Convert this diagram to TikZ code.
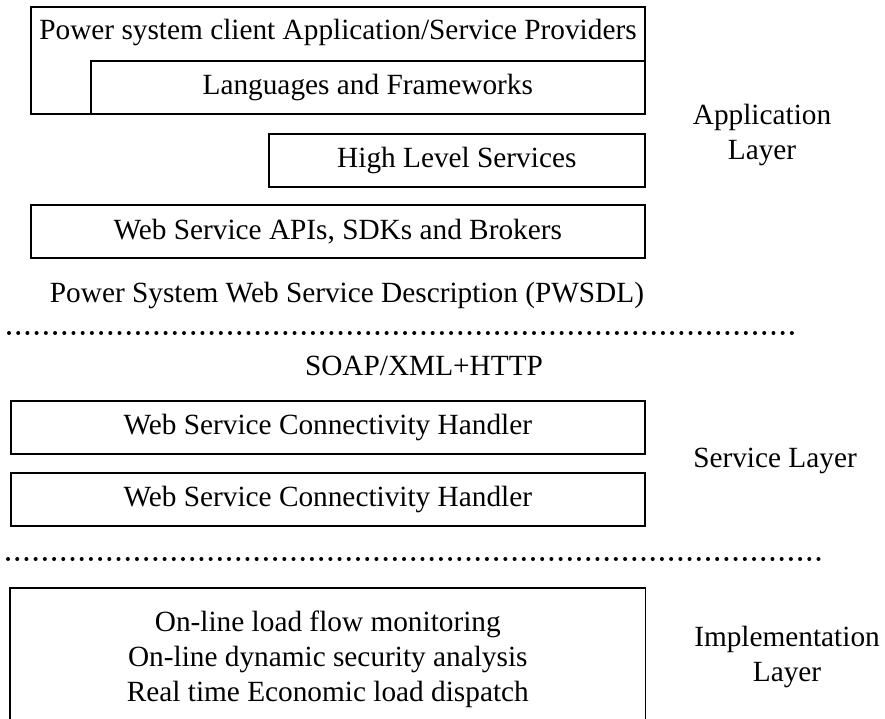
\documentclass[tikz,border=0pt]{standalone}
\usepackage{fontspec}
\setmainfont{Liberation Serif}
\usepackage{tikz}
\usetikzlibrary{positioning}

\begin{document}
\begin{tikzpicture}[
  x=1pt, y=-1pt,
  font=\fontsize{29.3}{35}\selectfont,
  caja/.style={rectangle, draw, line width=1.6pt, inner sep=0pt, anchor=north west, align=center, minimum height=53pt},
  capa/.style={align=center, inner sep=0pt},
  separador/.style={line width=4pt, line cap=round, dash pattern=on 0.01pt off 9.2pt}
]
\useasboundingbox (0,0) rectangle (885,719);
% application layer
\node[caja, minimum width=614pt, minimum height=107pt] (cliente) at (30,6) {};
\node[capa] (clientetxt) at (338,33) {Power system client Application/Service Providers};
\node[caja, minimum width=554pt] (lenguajes) at (90,60) {Languages and Frameworks};
\node[caja, minimum width=376pt] (altonivel) at (268,133) {High Level Services};
\node[caja, minimum width=614pt] (apis) at (30,204) {Web Service APIs, SDKs and Brokers};
\node[capa] (pwsdl) at (347,295) {Power System Web Service Description (PWSDL)};
\node[capa] (aplicacion) at (762,135) {Application\\Layer};
% service layer
\coordinate (sep1a) at (9,333);
\coordinate (sep1b) at (800,333);
\draw[separador] (sep1a) -- (sep1b);
\node[capa] (soap) at (424,366) {SOAP/XML+HTTP};
\node[caja, minimum width=634pt] (handler1) at (10,400) {Web Service Connectivity Handler};
\node[caja, minimum width=634pt] (handler2) at (10,472) {Web Service Connectivity Handler};
\node[capa] (servicio) at (775,461) {Service Layer};
% implementation layer
\coordinate (sep2a) at (8,559);
\coordinate (sep2b) at (820,559);
\draw[separador] (sep2a) -- (sep2b);
\node[caja, draw=none, minimum width=634pt, minimum height=140pt] (impl) at (10,588)
  {On-line load flow monitoring\\On-line dynamic security analysis\\Real time Economic load dispatch};
\draw[line width=1.6pt] (impl.south west) -- (impl.north west) -- (impl.north east) -- (impl.south east);
\node[capa] (implementacion) at (787,657) {Implementation\\Layer};
\end{tikzpicture}
\end{document}
